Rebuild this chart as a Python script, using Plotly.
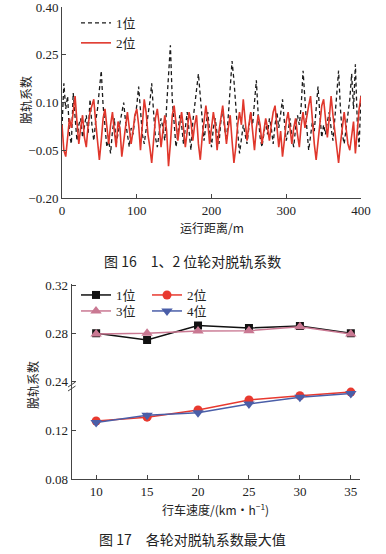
import plotly.graph_objects as go

# ---------------- Data: Fig 16 (derailment coefficient vs distance) ----------------
pos1_coef = [
    0.02, 0.16, 0.08, 0.12, 0.00, -0.03, 0.13, 0.04, -0.02, 0.03,
    0.05, -0.01, 0.02, 0.06, 0.00, 0.11, 0.03, -0.02, 0.04, 0.08,
    0.14, 0.20, 0.09, 0.02, -0.04, -0.02, -0.06, 0.01, 0.05, -0.03,
    0.00, 0.03, 0.06, 0.10, 0.04, -0.01, -0.04, 0.02, 0.00, 0.05,
    0.09, 0.15, 0.06, 0.00, -0.03, 0.02, 0.06, 0.10, 0.16, 0.07,
    -0.01, -0.04, 0.01, 0.05, 0.02, -0.02, 0.09, 0.18, 0.28, 0.11,
    0.03, -0.04, 0.00, 0.06, 0.03, -0.03, 0.02, 0.07, 0.01, -0.05,
    0.04, 0.09, 0.13, 0.19, 0.12, 0.04, -0.02, 0.03, 0.07, 0.01,
    -0.04, 0.02, 0.05, 0.00, -0.03, 0.04, 0.08, 0.02, -0.02, 0.06,
    0.14, 0.23, 0.17, 0.08, 0.01, -0.06, -0.02, 0.03, 0.00, -0.03,
    0.02, 0.07, 0.03, 0.09, 0.17, 0.06, -0.01, -0.04, 0.01, 0.04,
    0.00, 0.05, 0.02, -0.03, 0.03, 0.07, 0.02, 0.06, 0.11, 0.04,
    -0.02, 0.01, 0.05, -0.01, -0.04, 0.02, 0.06, 0.03, 0.09, 0.20,
    0.10, 0.02, -0.05, -0.01, 0.04, 0.01, 0.08, 0.15, 0.06, -0.01,
    0.03, 0.00, 0.04, 0.07, 0.02, -0.02, 0.05, 0.12, 0.20, 0.08,
    0.00, -0.03, 0.02, 0.06, 0.11, 0.19, 0.08, 0.22, 0.04, -0.04,
    0.13,
]
pos2_coef = [
    0.03, -0.05, -0.07, -0.01, 0.05, 0.02, 0.07, 0.12, 0.04, -0.03,
    0.02, 0.06, -0.01, -0.04, 0.03, 0.07, 0.09, 0.11, 0.04, -0.03,
    -0.08, -0.02, 0.05, 0.08, 0.02, -0.03, 0.03, 0.07, 0.01, -0.04,
    0.04, 0.02, -0.07, -0.02, 0.04, 0.07, 0.02, -0.03, 0.01, 0.06,
    0.08, 0.03, -0.05, 0.02, 0.11, 0.07, 0.00, -0.04, -0.09, -0.02,
    0.05, 0.08, 0.03, -0.04, 0.02, 0.06, 0.01, -0.10, -0.03, 0.06,
    0.09, 0.04, -0.02, 0.03, 0.07, 0.02, -0.04, 0.01, 0.07, 0.04,
    -0.02, 0.03, 0.06, -0.03, -0.08, -0.01, 0.05, 0.09, 0.04, -0.03,
    0.02, 0.07, 0.03, -0.05, 0.01, 0.06, 0.09, 0.03, -0.03, 0.02,
    0.06, -0.02, -0.09, -0.04, 0.03, 0.07, 0.03, 0.11, 0.05, -0.02,
    0.03, 0.07, 0.01, -0.05, 0.02, 0.06, 0.03, -0.03, 0.01, 0.05,
    0.02, -0.02, 0.03, 0.07, 0.09, 0.02, -0.04, 0.01, -0.07, -0.02,
    0.04, 0.07, 0.02, -0.03, 0.02, 0.05, 0.00, -0.04, 0.03, 0.07,
    0.02, 0.06, 0.09, 0.12, 0.04, -0.03, -0.08, -0.02, 0.03, 0.09,
    0.11, 0.04, -0.01, 0.05, 0.12, 0.06, 0.01, -0.04, -0.09, -0.03,
    0.03, 0.07, 0.02, -0.03, -0.05, -0.01, 0.04, -0.06, 0.02, 0.08,
    0.12,
]
step_m = 2.5
dist1 = [i * step_m for i in range(len(pos1_coef))]
dist2 = [i * step_m for i in range(len(pos2_coef))]

# ---------------- Data: Fig 17 (max derailment coefficient vs speed) ----------------
speeds = [10, 15, 20, 25, 30, 35]
max_pos1 = [0.280, 0.2745, 0.2865, 0.2845, 0.2862, 0.2800]
max_pos3 = [0.2795, 0.2800, 0.2820, 0.2822, 0.2855, 0.2795]
max_pos2 = [0.1280, 0.1312, 0.1372, 0.1455, 0.1490, 0.1520]
max_pos4 = [0.1268, 0.1328, 0.1348, 0.1422, 0.1477, 0.1508]

W, H = 386, 554
def px(x):
    return x / W
def py(y):
    return 1 - y / H

SERIF = "Times New Roman, Liberation Serif, serif"
LEGF = "Times New Roman, Liberation Serif, Noto Sans CJK SC, serif"
CJK = "Noto Sans CJK SC"
AX = "#444444"

fig = go.Figure()

fig.add_trace(go.Scatter(x=dist1, y=pos1_coef, mode="lines", name="1位",
                         line=dict(color="#1a1a1a", width=1.3, dash="4px,3px"),
                         xaxis="x", yaxis="y", legend="legend"))
fig.add_trace(go.Scatter(x=dist2, y=pos2_coef, mode="lines", name="2位",
                         line=dict(color="#e0372c", width=1.6),
                         xaxis="x", yaxis="y", legend="legend"))

fig.add_trace(go.Scatter(x=speeds, y=max_pos1, mode="lines+markers", name="1位",
                         line=dict(color="#111111", width=1.5),
                         marker=dict(symbol="square", size=8, color="#111111"),
                         xaxis="x2", yaxis="y3", legend="legend2"))
fig.add_trace(go.Scatter(x=speeds, y=max_pos2, mode="lines+markers", name="2位",
                         line=dict(color="#e8392f", width=1.5),
                         marker=dict(symbol="circle", size=9, color="#e8392f"),
                         xaxis="x2", yaxis="y2", legend="legend2"))
fig.add_trace(go.Scatter(x=speeds, y=max_pos3, mode="lines+markers", name="3位",
                         line=dict(color="#c97892", width=1.5),
                         marker=dict(symbol="triangle-up", size=10, color="#c97892"),
                         xaxis="x2", yaxis="y3", legend="legend3"))
fig.add_trace(go.Scatter(x=speeds, y=max_pos4, mode="lines+markers", name="4位",
                         line=dict(color="#4a5ea8", width=1.5),
                         marker=dict(symbol="triangle-down", size=10, color="#4a5ea8"),
                         xaxis="x2", yaxis="y2", legend="legend3"))

axis_common = dict(showline=True, linecolor=AX, linewidth=1, ticks="inside", ticklen=4,
                   tickcolor=AX, showgrid=False, zeroline=False, automargin=False,
                   ticklabeloverflow="allow",
                   tickfont=dict(family=SERIF, size=13, color="#222"))

leg_common = dict(font=dict(family=LEGF, size=13, color="#222"), bgcolor="rgba(0,0,0,0)",
                  itemwidth=30, tracegroupgap=0, borderwidth=0)

fig.update_layout(
    width=W, height=H, autosize=False,
    margin=dict(l=0, r=0, t=0, b=0),
    paper_bgcolor="white", plot_bgcolor="white",
    xaxis=dict(domain=[px(62), px(361)], range=[0, 400], anchor="y",
               tickvals=[0, 100, 200, 300, 400], **axis_common),
    yaxis=dict(domain=[py(198), py(7)], range=[-0.20, 0.40], anchor="x",
               tickvals=[-0.20, -0.05, 0.10, 0.25, 0.40], tickformat=".2f", **axis_common),
    xaxis2=dict(domain=[px(71.7), px(360)], range=[7.6, 35.9], anchor="y2",
                tickvals=speeds, **axis_common),
    yaxis2=dict(domain=[py(479), py(386.4)], range=[0.08, 0.1567], anchor="x2",
                tickvals=[0.08, 0.12], tickformat=".2f", **axis_common),
    yaxis3=dict(domain=[py(386.4), py(283.9)], range=[0.2355, 0.3215], anchor="x2",
                tickvals=[0.24, 0.28, 0.32], tickformat=".2f", **axis_common),
    legend=dict(x=px(76), y=py(33), xanchor="left", yanchor="middle", orientation="v", **leg_common),
    legend2=dict(x=px(76), y=py(295), xanchor="left", yanchor="middle", orientation="h",
                 entrywidth=26, **leg_common),
    legend3=dict(x=px(76), y=py(311), xanchor="left", yanchor="middle", orientation="h",
                 entrywidth=26, **leg_common),
    showlegend=True,
)

annots = [
    dict(text="脱轨系数", x=px(25), y=py(100), textangle=-90,
         font=dict(family=CJK, size=12, color="#222")),
    dict(text="运行距离/m", x=px(212), y=py(227),
         font=dict(family=CJK, size=12, color="#222")),
    dict(text="图 16　1、2 位轮对脱轨系数", x=px(192), y=py(261),
         font=dict(family=CJK, size=14, color="#222")),
    dict(text="脱轨系数", x=px(32), y=py(385), textangle=-90,
         font=dict(family=CJK, size=12, color="#222")),
    dict(text="行车速度/(km·h<sup>−1</sup>)", x=px(215), y=py(509),
         font=dict(family=CJK, size=12, color="#222")),
    dict(text="图 17　各轮对脱轨系数最大值", x=px(192), y=py(539),
         font=dict(family=CJK, size=14, color="#222")),
]
for a in annots:
    fig.add_annotation(xref="paper", yref="paper", showarrow=False,
                       xanchor="center", yanchor="middle", **a)

# axis break marks on the left axis of Fig 17
for dy in (-2, 2):
    fig.add_shape(type="line", xref="paper", yref="paper",
                  x0=px(68), x1=px(75.5), y0=py(389 + dy), y1=py(384 + dy),
                  line=dict(color=AX, width=1))

fig.write_html("out.html", config={"displayModeBar": False},
               post_script="document.body.style.margin='0';document.body.style.padding='0';")
